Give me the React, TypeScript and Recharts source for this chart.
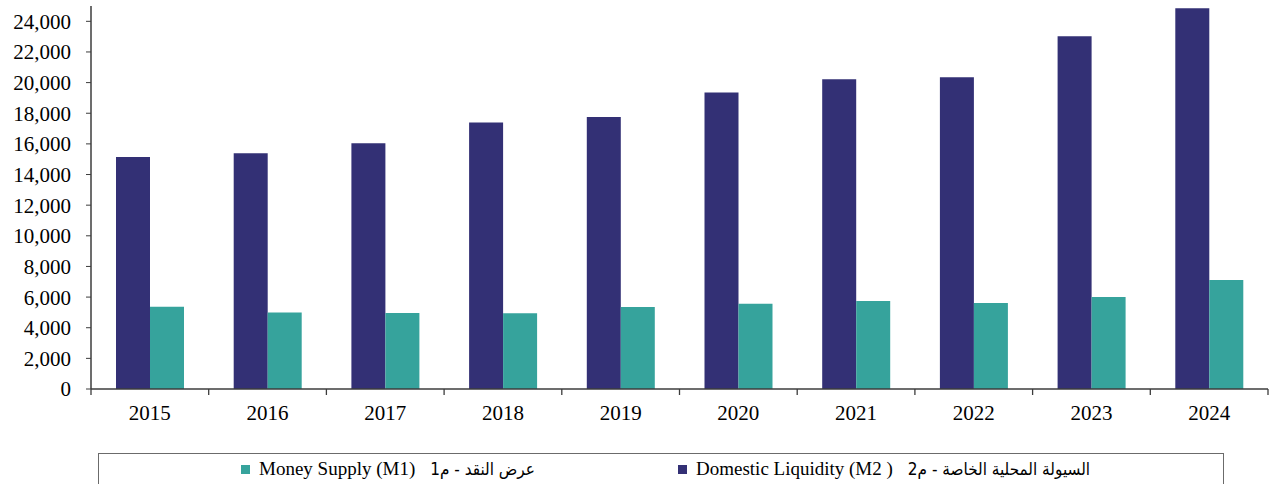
import { BarChart, Bar, XAxis, YAxis } from 'recharts';

const years = ['2015', '2016', '2017', '2018', '2019', '2020', '2021', '2022', '2023', '2024'];
const m2Values = [15150, 15390, 16040, 17400, 17760, 19350, 20220, 20350, 23020, 24850];
const m1Values = [5370, 4990, 4960, 4950, 5350, 5565, 5740, 5610, 6000, 7110];
const yTicks = [0, 2000, 4000, 6000, 8000, 10000, 12000, 14000, 16000, 18000, 20000, 22000, 24000];

const m1LabelEn = 'Money Supply (M1)';
const m1LabelAr = 'عرض النقد - م1';
const m2LabelEn = 'Domestic Liquidity (M2 )';
const m2LabelAr = 'السيولة المحلية الخاصة - م2';

const M2_COLOR = '#333075';
const M1_COLOR = '#36a39c';
const AXIS_COLOR = '#3c3c3c';

const CHART_W = 1269;
const CHART_H = 484;
const Y_AXIS_W = 91;
const MARGIN_RIGHT = 1;
const band = (CHART_W - Y_AXIS_W - MARGIN_RIGHT) / years.length;

const data = years.map((year, i) => ({ year, m2: m2Values[i], m1: m1Values[i] }));

const serif = '"Liberation Serif", "Times New Roman", serif';

const YearTick = (props: any) => {
  const { x, y, payload, index } = props;
  const left = x - band / 2;
  return (
    <g>
      <line x1={left} y1={y} x2={left} y2={y + 6} stroke={AXIS_COLOR} strokeWidth={1.3} />
      {index === years.length - 1 && (
        <line x1={x + band / 2} y1={y} x2={x + band / 2} y2={y + 6} stroke={AXIS_COLOR} strokeWidth={1.3} />
      )}
      <text x={x} y={y + 31} textAnchor="middle" fontFamily={serif} fontSize={21} fill="#000">
        {payload.value}
      </text>
    </g>
  );
};

const legendItems = [
  { en: m1LabelEn, ar: m1LabelAr, color: M1_COLOR, offset: 142 },
  { en: m2LabelEn, ar: m2LabelAr, color: M2_COLOR, offset: 579 },
];

export default function App() {
  return (
    <div style={{ position: 'absolute', left: 0, top: 0, width: CHART_W, height: CHART_H, overflow: 'hidden', background: '#fff' }}>
      <BarChart
        width={CHART_W}
        height={CHART_H}
        data={data}
        margin={{ top: 6, right: MARGIN_RIGHT, left: 0, bottom: 0 }}
        barCategoryGap={25}
        barGap={0}
      >
        <XAxis
          dataKey="year"
          height={95}
          tickLine={false}
          tickSize={0}
          tickMargin={0}
          axisLine={{ stroke: AXIS_COLOR, strokeWidth: 1.5 }}
          tick={<YearTick />}
          interval={0}
        />
        <XAxis
          xAxisId="top"
          dataKey="year"
          orientation="top"
          height={0}
          tick={false}
          tickLine={false}
          axisLine={{ stroke: '#555', strokeWidth: 1.5 }}
        />
        <YAxis
          width={Y_AXIS_W}
          domain={[0, 25000]}
          ticks={yTicks}
          interval={0}
          tickSize={5}
          tickMargin={15}
          tickLine={{ stroke: AXIS_COLOR }}
          axisLine={{ stroke: AXIS_COLOR, strokeWidth: 1.5 }}
          tick={{ fill: '#000', fontSize: 21, fontFamily: serif }}
          tickFormatter={(v: number) => v.toLocaleString('en-US')}
        />
        <YAxis
          yAxisId="right"
          orientation="right"
          width={0}
          domain={[0, 25000]}
          tick={false}
          tickLine={false}
          axisLine={{ stroke: '#555', strokeWidth: 1.5 }}
        />
        <Bar dataKey="m2" fill={M2_COLOR} isAnimationActive={false} />
        <Bar dataKey="m1" fill={M1_COLOR} isAnimationActive={false} />
      </BarChart>
      <div
        style={{
          position: 'absolute',
          left: 98,
          top: 453,
          width: 1126,
          height: 60,
          borderTop: '1.5px solid #6b6b6b',
          borderLeft: '1.5px solid #6b6b6b',
          borderRight: '1.5px solid #6b6b6b',
          boxSizing: 'border-box',
        }}
      >
        {legendItems.map((item) => (
          <div
            key={item.en}
            style={{
              position: 'absolute',
              left: item.offset,
              top: 4,
              display: 'flex',
              alignItems: 'center',
              fontFamily: serif,
              fontSize: 19,
              whiteSpace: 'pre',
              direction: 'ltr',
              color: '#000',
            }}
          >
            <span style={{ display: 'inline-block', width: 9, height: 9, background: item.color, marginRight: 9 }} />
            <span>{item.en}</span>
            <span
              style={{
                direction: 'rtl',
                unicodeBidi: 'isolate',
                marginLeft: 15,
                fontSize: 17,
                fontFamily: '"DejaVu Sans Condensed", "DejaVu Sans", sans-serif',
              }}
            >
              {item.ar}
            </span>
          </div>
        ))}
      </div>
    </div>
  );
}
